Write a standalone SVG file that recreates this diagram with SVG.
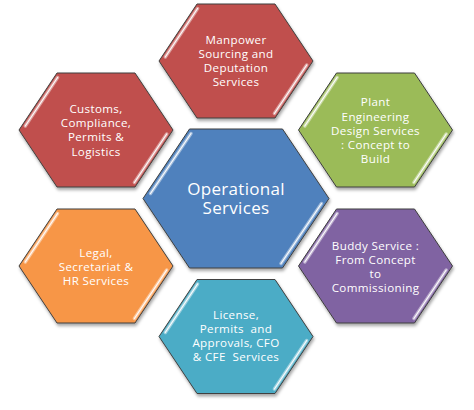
<svg xmlns="http://www.w3.org/2000/svg" width="474" height="410" viewBox="0 0 474 410">
  <defs>
    <filter id="shadow" x="-20%" y="-20%" width="140%" height="150%">
      <feDropShadow dx="1" dy="2.5" stdDeviation="1.5" flood-color="#000" flood-opacity="0.35"/>
    </filter>
    <polygon id="hex" points="-39,-57 39,-57 77,0 39,57 -39,57 -77,0"/>
    <polygon id="hexC" points="-46.5,-69.5 46.5,-69.5 93,0 46.5,69.5 -46.5,69.5 -93,0"/>
    <g id="hl">
      <line class="glow" x1="-70.7" y1="-4" x2="-38.4" y2="-52.5"/>
      <line class="core" x1="-70.7" y1="-4" x2="-38.4" y2="-52.5"/>
      <line class="glow" x1="70.7" y1="4" x2="38.4" y2="52.5"/>
      <line class="core" x1="70.7" y1="4" x2="38.4" y2="52.5"/>
    </g>
    <g id="hlC">
      <line class="glow" x1="-85.5" y1="-5" x2="-45" y2="-65"/>
      <line class="core" x1="-85.5" y1="-5" x2="-45" y2="-65"/>
      <line class="glow" x1="85.5" y1="5" x2="45" y2="65"/>
      <line class="core" x1="85.5" y1="5" x2="45" y2="65"/>
    </g>
  </defs>
  <style>
    .shape { stroke: #3f3f3f; stroke-width: 1; filter: url(#shadow); }
    .glow { stroke: #ffffff; stroke-opacity: 0.45; stroke-width: 3.5; stroke-linecap: round; }
    .core { stroke: #ffffff; stroke-opacity: 0.95; stroke-width: 1.2; stroke-linecap: round; }
    .lbl { font-family: "Open Sans", "Noto Sans", "Liberation Sans", sans-serif; font-size: 11.6px; letter-spacing: 0.35px; fill: #ffffff; text-anchor: middle; white-space: pre; }
    .big { font-size: 17px; letter-spacing: 0.3px; }
  </style>
  <rect width="474" height="410" fill="#ffffff"/>
  <g id="connectors"></g>

  <g id="manpower" transform="translate(236,61)">
    <use href="#hex" class="shape" fill="#C0504D"/>
    <use href="#hl"/>
    <text class="lbl" y="-17">Manpower</text>
    <text class="lbl" y="-3">Sourcing and</text>
    <text class="lbl" y="11">Deputation</text>
    <text class="lbl" y="25">Services</text>
  </g>

  <g id="customs" transform="translate(96,130)">
    <use href="#hex" class="shape" fill="#C0504D"/>
    <use href="#hl"/>
    <text class="lbl" y="-17">Customs,</text>
    <text class="lbl" y="-3">Compliance,</text>
    <text class="lbl" y="11">Permits &amp;</text>
    <text class="lbl" y="26">Logistics</text>
  </g>

  <g id="plant" transform="translate(375.5,130)">
    <use href="#hex" class="shape" fill="#9BBB59"/>
    <use href="#hl"/>
    <text class="lbl" y="-24">Plant</text>
    <text class="lbl" y="-9">Engineering</text>
    <text class="lbl" y="5">Design Services</text>
    <text class="lbl" y="18.5">: Concept to</text>
    <text class="lbl" y="33">Build</text>
  </g>

  <g id="legal" transform="translate(96,266)">
    <use href="#hex" class="shape" fill="#F79646"/>
    <use href="#hl"/>
    <text class="lbl" y="-9">Legal,</text>
    <text class="lbl" y="5">Secretariat &amp;</text>
    <text class="lbl" y="19">HR Services</text>
  </g>

  <g id="buddy" transform="translate(375.5,266)">
    <use href="#hex" class="shape" fill="#8064A2"/>
    <use href="#hl"/>
    <text class="lbl" y="-16">Buddy Service :</text>
    <text class="lbl" y="-2.5">From Concept</text>
    <text class="lbl" y="12">to</text>
    <text class="lbl" y="25.5">Commissioning</text>
  </g>

  <g id="license" transform="translate(236,336.5)">
    <use href="#hex" class="shape" fill="#4BACC6"/>
    <use href="#hl"/>
    <text class="lbl" y="-17.5">License,</text>
    <text class="lbl" y="-3.5">Permits  and</text>
    <text class="lbl" y="10.5">Approvals, CFO</text>
    <text class="lbl" y="24.5">&amp; CFE  Services</text>
  </g>

  <g id="center" transform="translate(236,198.5)">
    <use href="#hexC" class="shape" fill="#4F81BD"/>
    <use href="#hlC"/>
    <text class="lbl big" y="-4">Operational</text>
    <text class="lbl big" y="15.5">Services</text>
  </g>
</svg>
